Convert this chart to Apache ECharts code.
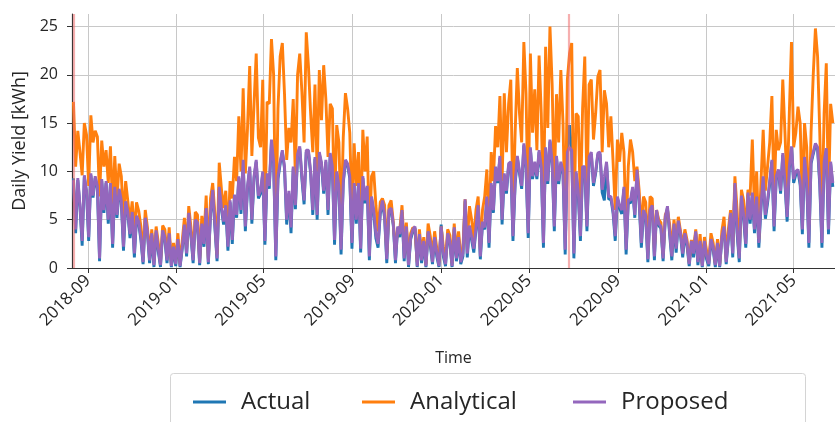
<!DOCTYPE html>
<html><head><meta charset="utf-8">
<script src="https://cdn.jsdelivr.net/npm/echarts@6/dist/echarts.min.js"></script>
<style>html,body{margin:0;padding:0;background:#fff}#c{width:835px;height:422px}</style>
</head><body><div id="c"></div>
<script>
const startDate = '2018-08-12';
const stepDays = 3;
const xTickLabels = ['2018-09','2019-01','2019-05','2019-09','2020-01','2020-05','2020-09','2021-01','2021-05'];
const yTicks = [0, 5, 10, 15, 20, 25];
const markerDates = ['2018-08-12', '2020-06-25'];
const seriesNames = ['Actual', 'Analytical', 'Proposed'];

const actual = [
9.3,3.6,9.1,6.3,2.3,9.4,7.8,2.8,9.6,7.3, 9.3,8.3,0.7,9.0,5.7,8.8,4.6,8.6,2.1,8.2,
5.2,8.0,6.8,1.8,6.7,5.6,3.1,5.6,1.1,5.2, 4.6,2.9,0.4,5.0,3.6,0.5,3.4,0.1,3.7,1.7,
0.1,3.7,3.0,0.5,3.4,0.1,2.0,0.2,2.8,0.1, 2.0,4.3,1.2,5.5,3.3,0.5,4.8,4.5,0.3,4.4,
2.2,6.0,0.4,5.6,7.9,4.2,0.7,8.2,6.1,4.5, 6.3,1.8,6.8,2.5,7.4,5.2,9.3,5.6,11.0,3.8,
8.2,10.3,4.6,9.3,11.0,7.2,7.7,9.8,2.4,9.6, 8.2,13.1,10.8,0.8,9.2,10.8,12.0,10.3,4.5,7.7,
3.6,10.3,6.1,11.6,12.4,9.2,6.6,12.0,12.0,9.8, 5.5,11.3,5.0,11.8,10.7,7.7,11.0,5.5,11.7,10.3,
2.4,9.8,8.2,1.4,8.8,11.0,10.6,9.3,2.0,8.6, 4.6,8.6,1.6,9.3,6.7,8.3,0.8,7.2,5.7,3.1,
2.1,5.6,6.8,5.2,0.5,5.8,6.0,4.4,0.5,4.1, 3.2,5.8,0.7,4.1,0.1,3.0,3.8,4.1,0.1,3.3,
0.5,2.6,0.1,3.6,2.4,0.4,3.0,1.2,0.1,4.5, 1.2,0.2,3.4,2.6,0.1,4.0,0.7,3.0,0.4,1.2,
6.9,1.1,4.2,2.9,1.6,4.0,6.3,0.9,4.6,4.0, 7.2,2.1,8.6,5.7,10.3,8.8,11.4,4.5,9.6,7.7,
10.6,10.8,2.8,8.7,11.4,9.8,8.2,12.7,10.3,3.1, 12.3,9.2,10.8,9.2,12.0,10.3,2.1,12.3,8.7,13.1,
10.8,3.8,11.4,8.7,10.8,9.7,1.4,11.8,14.8,12.0, 1.0,9.8,7.6,2.8,10.3,10.3,3.8,11.3,11.8,8.5,
9.8,11.7,11.8,7.8,7.0,10.8,7.1,7.2,5.7,2.8, 7.2,6.2,5.6,8.2,1.4,6.9,6.7,8.2,5.2,10.0,
6.7,2.1,5.8,5.2,0.6,5.8,6.3,0.8,5.8,4.4, 4.1,0.7,5.1,6.2,3.5,0.8,4.4,1.6,4.7,3.4,
1.1,3.4,2.3,0.2,2.6,1.1,3.6,0.3,2.6,0.1, 2.6,0.9,0.2,2.8,1.9,0.1,2.4,0.1,3.0,4.5,
0.4,3.0,5.5,1.1,8.6,3.6,0.6,7.3,5.2,2.1, 7.6,4.6,7.6,3.6,7.2,2.1,6.3,9.3,5.1,6.7,
8.7,11.0,3.8,9.3,10.0,7.7,11.7,8.7,4.8,10.3, 12.4,8.8,9.7,10.0,8.6,3.5,11.3,8.7,2.1,10.8,
11.8,12.7,12.3,8.6,2.1,10.8,12.2,3.5,10.8,8.4
];
const analytical = [
17.2,10.5,14.2,12.0,9.6,15.0,13.8,8.5,15.8,13.0, 14.2,13.6,7.4,13.2,10.5,12.2,8.8,12.6,6.2,11.6,
7.0,10.8,9.5,5.2,9.0,6.9,4.8,6.9,3.6,6.8, 5.9,4.3,1.2,6.0,4.2,1.5,4.0,0.8,4.3,2.6,
0.6,4.4,4.0,1.2,4.2,0.5,2.6,0.8,3.6,0.5, 2.8,5.2,2.0,6.4,4.2,1.4,5.8,5.5,0.9,5.4,
3.2,7.5,1.0,7.2,8.8,5.6,1.4,10.9,8.2,6.2, 8.0,3.3,9.0,7.2,11.5,9.0,15.7,10.0,18.6,9.8,
14.5,20.9,11.6,17.0,22.2,13.5,12.5,19.5,5.0,17.2, 17.0,23.7,20.0,3.0,16.5,21.9,23.3,18.0,11.2,14.5,
13.0,17.5,9.5,20.0,22.2,18.2,13.0,24.4,20.9,16.0, 12.0,19.0,10.0,20.5,15.3,21.0,17.5,11.5,17.0,16.5,
6.0,14.8,13.0,4.5,13.5,18.1,16.5,14.0,5.5,12.9, 8.5,12.0,4.0,14.3,10.0,13.6,3.0,9.5,10.0,6.5,
3.8,6.8,7.2,6.5,1.5,6.5,7.0,4.7,1.8,4.0, 4.0,6.5,2.2,4.7,1.0,3.6,4.2,4.0,0.6,4.0,
1.5,3.2,0.4,4.6,3.3,1.2,3.8,2.0,0.6,4.3, 2.2,0.8,4.0,3.4,0.5,4.6,1.5,3.8,1.2,2.0,
7.1,2.5,6.4,5.0,3.0,6.0,7.4,2.0,6.0,7.4, 10.2,4.0,12.0,9.0,14.7,12.5,17.8,9.0,18.1,12.0,
17.0,19.5,6.0,14.0,20.7,16.0,13.0,23.4,18.0,6.0, 22.2,14.0,18.5,12.2,22.0,16.0,5.0,22.9,14.5,25.0,
19.0,8.0,18.0,13.0,20.5,15.0,4.0,19.5,22.2,23.3, 4.0,16.0,15.7,6.5,16.5,21.9,8.0,19.0,19.5,13.3,
16.0,19.8,20.5,12.0,18.4,17.0,12.5,15.7,11.0,6.0, 13.3,11.0,14.0,12.0,3.5,10.5,13.3,12.0,9.0,10.5,
8.0,4.0,7.4,6.8,1.8,7.4,7.2,2.0,6.0,5.0, 4.7,1.5,5.5,6.0,4.5,1.8,5.0,3.0,5.3,3.8,
2.2,4.0,2.9,0.6,2.9,2.0,4.0,1.0,3.5,0.4, 3.2,1.8,0.8,3.6,2.6,0.5,3.0,0.4,3.8,5.3,
1.0,4.0,6.0,2.2,9.5,6.0,1.6,8.1,7.0,3.5, 8.1,7.5,13.3,6.0,10.0,3.0,9.0,14.3,8.0,10.5,
13.0,17.8,7.0,14.3,12.2,13.0,19.5,14.0,8.0,16.0, 23.4,12.5,14.0,16.7,15.0,6.5,15.0,12.5,4.5,14.0,
20.0,24.8,21.9,14.0,5.0,16.0,21.2,7.0,17.0,15.0
];
const proposed = [
9.1,4.0,9.3,6.5,2.8,9.6,8.0,3.2,9.8,7.5, 9.5,8.5,1.0,9.2,6.0,9.0,5.0,8.8,2.5,8.4,
5.5,8.2,7.0,2.2,6.9,5.8,3.5,5.8,1.5,5.4, 4.8,3.2,0.6,5.2,3.8,0.8,3.6,0.3,3.9,2.0,
0.3,3.9,3.2,0.8,3.6,0.2,2.2,0.4,3.0,0.2, 2.2,4.5,1.5,5.7,3.5,0.8,5.0,4.7,0.5,4.6,
2.5,6.2,0.6,5.8,8.1,4.5,1.0,8.4,6.3,4.8, 6.5,2.2,7.0,2.9,7.6,5.5,9.5,6.0,11.2,4.3,
8.5,10.5,5.0,9.5,11.2,7.5,8.0,10.0,2.8,9.8, 8.5,13.3,11.0,1.2,9.5,11.0,12.2,10.5,5.0,8.0,
4.2,10.5,6.5,11.8,12.6,9.5,7.0,12.2,12.2,10.0, 6.0,11.5,5.5,12.0,10.9,8.0,11.2,6.0,11.9,10.5,
2.9,10.0,8.5,1.9,9.0,11.2,10.8,9.5,2.6,8.8, 5.0,8.8,2.0,9.5,7.0,8.5,1.2,7.4,6.0,3.5,
2.5,5.8,7.0,5.5,0.9,6.0,6.2,4.6,0.8,4.3, 3.5,6.0,1.0,4.3,0.3,3.2,4.0,4.3,0.2,3.5,
0.8,2.8,0.2,3.8,2.6,0.6,3.2,1.5,0.2,4.3, 1.5,0.4,3.6,2.8,0.2,4.2,1.0,3.2,0.6,1.5,
7.1,1.5,4.4,3.2,2.0,4.2,6.5,1.2,4.8,4.2, 7.4,2.6,8.8,6.0,10.5,9.0,11.6,5.0,9.8,8.0,
10.8,11.0,3.3,9.0,11.6,10.0,8.5,12.9,10.5,3.6, 12.5,9.5,11.0,9.5,12.2,10.5,2.6,12.5,9.0,13.3,
11.0,4.3,11.6,9.0,11.0,10.0,1.9,12.0,12.5,12.2, 1.5,10.0,8.0,3.3,10.5,10.5,4.3,11.5,12.0,8.8,
10.0,11.9,12.0,8.1,9.5,11.0,7.4,7.4,6.0,3.3, 7.4,6.5,6.0,8.4,1.9,7.1,7.0,8.4,5.5,10.2,
7.0,2.6,6.0,5.5,0.9,6.0,6.5,1.2,6.0,4.6, 4.3,1.0,5.3,6.4,3.8,1.2,4.6,2.0,4.9,3.6,
1.5,3.6,2.6,0.4,2.8,1.5,3.8,0.6,2.8,0.2, 2.8,1.2,0.4,3.0,2.2,0.3,2.6,0.2,3.2,4.3,
0.6,3.2,5.7,1.5,8.8,4.0,1.0,7.5,5.5,2.5, 7.8,5.0,7.8,4.0,7.4,2.6,6.6,9.5,5.5,7.0,
9.0,11.2,4.3,9.5,10.2,8.0,11.9,9.0,5.3,10.5, 12.6,9.2,10.0,10.2,9.0,4.0,11.5,9.0,2.6,11.0,
12.0,12.9,12.5,9.0,2.6,11.0,12.4,4.0,11.0,8.8
];

// ---- helpers ----
function parseDay(s) { const p = s.split('-').map(Number); return +new Date(p[0], p[1]-1, p[2] || 1); }
const t0 = parseDay(startDate);
const dates = actual.map((_, i) => { const d = new Date(t0); d.setDate(d.getDate() + i*stepDays); return +d; });
const xTickVals = xTickLabels.map(parseDay);
const pair = arr => arr.map((v, i) => [dates[i], v]);

const xMin = parseDay('2018-08-10');
const xMax = parseDay('2021-06-27');
const textCol = '#262626';
const axisFont = 'Open Sans';

const chart = echarts.init(document.getElementById('c'), null, {renderer: 'canvas'});
const colors = ['#1f77b4', '#ff7f0e', '#9467bd'];
const seriesData = [actual, analytical, proposed];
const legendPos = [188, 357, 568];

chart.setOption({
  animation: false,
  backgroundColor: '#fff',
  grid: {left: 72, top: 14, right: -1, bottom: 154, show: false},
  xAxis: [{
    type: 'value', min: xMin, max: xMax, gridIndex: 0,
    axisLine: {show: true, onZero: false, lineStyle: {color: '#333', width: 1.2}},
    axisTick: {show: true, customValues: xTickVals, length: 5, lineStyle: {color: '#333'}},
    axisLabel: {
      customValues: xTickVals, rotate: 45, margin: 10, fontSize: 17, color: textCol, fontFamily: axisFont,
      formatter: v => { const d = new Date(v); return d.getFullYear() + '-' + String(d.getMonth()+1).padStart(2,'0'); }
    },
    splitLine: {show: true, lineStyle: {color: '#c8c8c8', width: 1}},
    name: 'Time', nameLocation: 'middle', nameGap: 82,
    nameTextStyle: {fontSize: 16, color: textCol, fontFamily: axisFont}
  }, {
    type: 'value', min: xMin, max: xMax, gridIndex: 0, position: 'top',
    axisLine: {show: true, lineStyle: {color: '#333', width: 1.2}},
    axisTick: {show: false}, axisLabel: {show: false}, splitLine: {show: false}
  }],
  yAxis: {
    type: 'value', min: 0, max: 26.3,
    axisLine: {show: true, lineStyle: {color: '#333', width: 1.2}},
    axisTick: {show: true, customValues: yTicks, length: 5, lineStyle: {color: '#333'}},
    axisLabel: {customValues: yTicks, fontSize: 16, color: textCol, fontFamily: axisFont, margin: 14},
    splitLine: {show: true, lineStyle: {color: '#c8c8c8', width: 1}},
    name: 'Daily Yield [kWh]', nameLocation: 'middle', nameGap: 42,
    nameTextStyle: {fontSize: 18, color: textCol, fontFamily: axisFont}
  },
  legend: seriesNames.map((n, k) => ({
    data: [n], left: legendPos[k], top: 385, icon: 'rect', itemWidth: 33, itemHeight: 3,
    selectedMode: false,
    textStyle: {fontSize: 24, color: textCol, fontFamily: axisFont, padding: [0, 0, 0, 10]}
  })),
  graphic: [{
    type: 'rect', silent: true, z: 100,
    shape: {x: 170.5, y: 373.5, width: 635, height: 60, r: 3},
    style: {fill: 'none', stroke: '#d4d4d4', lineWidth: 1}
  }],
  series: seriesNames.map((n, k) => {
    const s = {
      name: n, type: 'line', data: pair(seriesData[k]), showSymbol: false, symbol: 'none',
      color: colors[k], lineStyle: {width: 2.9, color: colors[k]}, z: 2 + k
    };
    if (k === 0) {
      s.markLine = {
        silent: true, symbol: 'none', label: {show: false}, animation: false,
        lineStyle: {color: 'rgba(238,110,110,0.55)', width: 2.2, type: 'solid'},
        data: markerDates.map(d => ({xAxis: parseDay(d)}))
      };
    }
    return s;
  })
});
</script>
</body></html>
